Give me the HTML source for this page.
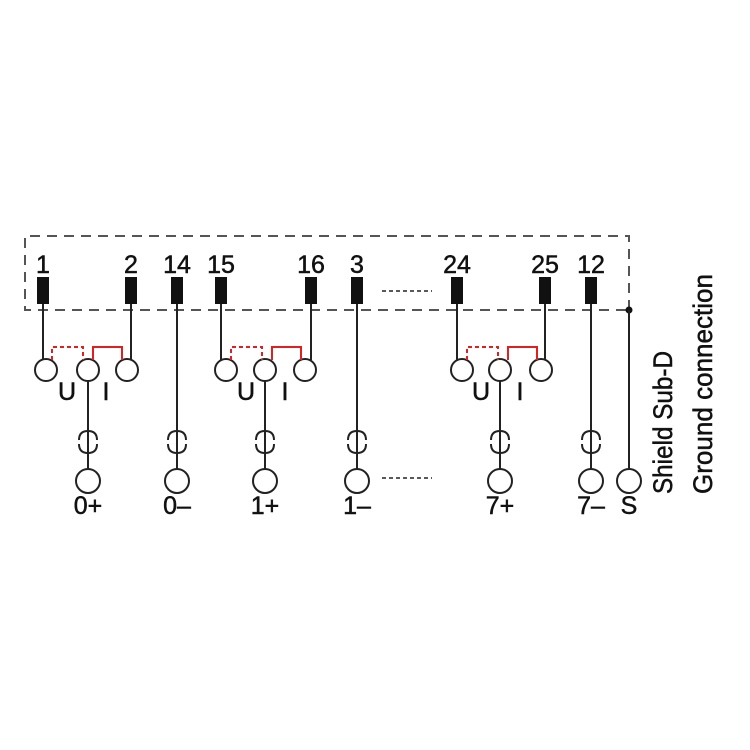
<!DOCTYPE html>
<html><head><style>body{margin:0;background:#fff}svg{display:block}</style></head><body>
<svg width="750" height="750" xmlns="http://www.w3.org/2000/svg" font-family="Liberation Sans Narrow, Liberation Sans, sans-serif">
<rect width="750" height="750" fill="#fff"/>
<g stroke="#555" stroke-width="2" stroke-dasharray="10,7" fill="none">
<path d="M629,310 L629,236 L25,236 L25,310 L629,310"/>
</g>
<circle cx="629" cy="310" r="3.5" fill="#111"/>
<g fill="#111">
<rect x="37" y="277" width="12" height="27"/><rect x="125" y="277" width="12" height="27"/>
<rect x="171" y="277" width="12" height="27"/><rect x="215" y="277" width="12" height="27"/>
<rect x="305" y="277" width="12" height="27"/><rect x="351" y="277" width="12" height="27"/>
<rect x="451" y="277" width="12" height="27"/><rect x="539" y="277" width="12" height="27"/>
<rect x="585" y="277" width="12" height="27"/>
</g>
<g font-size="25" fill="#111" stroke="#111" stroke-width="0.5" text-anchor="middle">
<text x="43" y="273">1</text><text x="131" y="273">2</text><text x="177" y="273">14</text>
<text x="221" y="273">15</text><text x="311" y="273">16</text><text x="357" y="273">3</text>
<text x="457" y="273">24</text><text x="545" y="273">25</text><text x="591" y="273">12</text>
<text x="88" y="514">0+</text><text x="177" y="514">0–</text><text x="265" y="514">1+</text>
<text x="357" y="514">1–</text><text x="500" y="514">7+</text><text x="591" y="514">7–</text><text x="629" y="514">S</text>
<text x="67" y="400">U</text><text x="106" y="400">I</text>
<text x="246" y="400">U</text><text x="285" y="400">I</text>
<text x="481" y="400">U</text><text x="520" y="400">I</text>
</g>
<g stroke="#222" stroke-width="2" fill="none">
<path d="M43,304 V360 M131,304 V360 M221,304 V360 M311,304 V360 M457,304 V360 M545,304 V360"/>
<path d="M177,304 V470 M357,304 V470 M591,304 V470 M629,310 V470"/>
<path d="M88,381 V470 M265,381 V470 M500,381 V470"/>
<g fill="#fff">
<circle cx="46" cy="370" r="11"/><circle cx="88" cy="370" r="11"/><circle cx="127" cy="370" r="11"/>
<circle cx="226" cy="370" r="11"/><circle cx="265" cy="370" r="11"/><circle cx="305" cy="370" r="11"/>
<circle cx="462" cy="370" r="11"/><circle cx="500" cy="370" r="11"/><circle cx="541" cy="370" r="11"/>
<circle cx="88" cy="481" r="12"/><circle cx="177" cy="481" r="12"/><circle cx="265" cy="481" r="12"/>
<circle cx="357" cy="481" r="12"/><circle cx="500" cy="481" r="12"/><circle cx="591" cy="481" r="12"/>
<circle cx="629" cy="481" r="12"/>
</g>
<path d="M382,291 H432 M382,478 H432" stroke-dasharray="4,3" stroke-width="1.5"/>
</g>
<g stroke="#222" stroke-width="2" fill="none">
<g id="f"><path d="M79,440 Q79,431 88,431 Q97,431 97,440"/><path d="M79,444 Q79,453 88,453 Q97,453 97,444"/></g>
<use href="#f" x="89"/><use href="#f" x="177"/><use href="#f" x="269"/><use href="#f" x="412"/><use href="#f" x="503"/>
</g>
<g stroke="#e02020" stroke-width="2" fill="none">
<g id="r"><path d="M52,360 V347 H83 V360" stroke-dasharray="4,3"/><path d="M93,360 V347 H122 V360"/></g>
<use href="#r" x="179"/><use href="#r" x="415"/>
</g>
<g font-size="27" fill="#111" stroke="#111" stroke-width="0.5">
<text transform="translate(672,494) rotate(-90)" textLength="143" lengthAdjust="spacingAndGlyphs">Shield Sub-D</text>
<text transform="translate(712,494) rotate(-90)" textLength="220" lengthAdjust="spacingAndGlyphs">Ground connection</text>
</g>
</svg>
</body></html>
